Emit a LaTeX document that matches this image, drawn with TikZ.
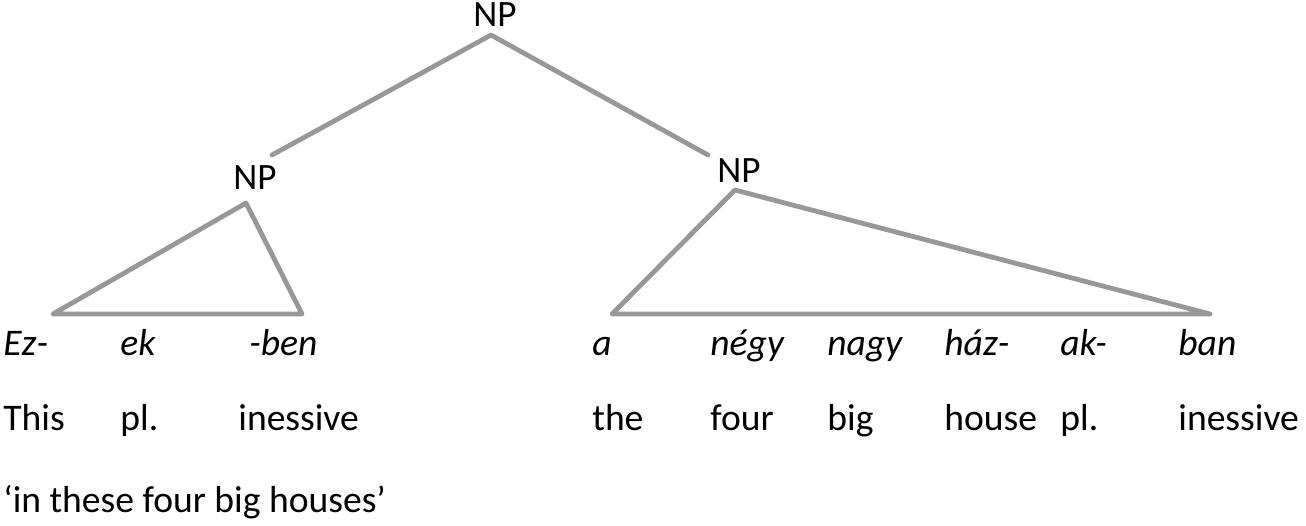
\documentclass[tikz,border=0pt]{standalone}
\usepackage{fontspec}
\setmainfont{Carlito}
\usepackage{xcolor}
\usepackage{tikz}
\usetikzlibrary{positioning}
\definecolor{gris}{RGB}{152,152,152}

\begin{document}
\begin{tikzpicture}[x=0.5pt, y=-0.5pt,
  cat/.style={inner sep=0pt, anchor=base, font=\fontsize{18.6}{20}\selectfont},
  morf/.style={inner sep=0pt, anchor=base west, font=\fontsize{18.8}{20}\selectfont\itshape},
  glosa/.style={inner sep=0pt, anchor=base west, font=\fontsize{18.8}{20}\selectfont},
  rama/.style={draw=gris, line width=2.4pt, line join=round, line cap=round}
]
  \useasboundingbox (0,0) rectangle (1306,525);
  % categorias
  \node[cat] (np0) at (495,26)  {NP};
  \node[cat] (np1) at (255,189) {NP};
  \node[cat] (np2) at (739,182) {NP};
  \coordinate (r0) at (491,35);
  \coordinate (r1) at (272,155);
  \coordinate (r2) at (708,155);
  \coordinate (t1) at (246,203);
  \coordinate (t1a) at (53,314);
  \coordinate (t1b) at (302,314);
  \coordinate (t2) at (735,190);
  \coordinate (t2a) at (612,314);
  \coordinate (t2b) at (1210,314);
  \draw[rama] (r1) -- (r0) -- (r2);
  \draw[rama] (t1) -- (t1a) -- (t1b) -- cycle;
  \draw[rama] (t2) -- (t2a) -- (t2b) -- cycle;
  % morfemas
  \node[morf] (ez)   at (3,355)    {Ez-};
  \node[morf] (ek)   at (120,355)  {ek};
  \node[morf] (ben)  at (249,355)  {-ben};
  \node[morf] (a)    at (592,355)  {a};
  \node[morf] (negy) at (710,355)  {négy};
  \node[morf] (nagy) at (827,355)  {nagy};
  \node[morf] (haz)  at (944,355)  {ház-};
  \node[morf] (ak)   at (1060,355) {ak-};
  \node[morf] (ban)  at (1178,355) {ban};
  % glosas
  \node[glosa] (this)  at (3,430)    {This};
  \node[glosa] (pl1)   at (120,430)  {pl.};
  \node[glosa] (ines1) at (238,430)  {inessive};
  \node[glosa] (the)   at (592,430)  {the};
  \node[glosa] (four)  at (710,430)  {four};
  \node[glosa] (big)   at (827,430)  {big};
  \node[glosa] (house) at (944,430)  {house};
  \node[glosa] (pl2)   at (1060,430) {pl.};
  \node[glosa] (ines2) at (1178,430) {inessive};
  \node[glosa] (trad)  at (3,512)    {‘in these four big houses’};
\end{tikzpicture}
\end{document}
